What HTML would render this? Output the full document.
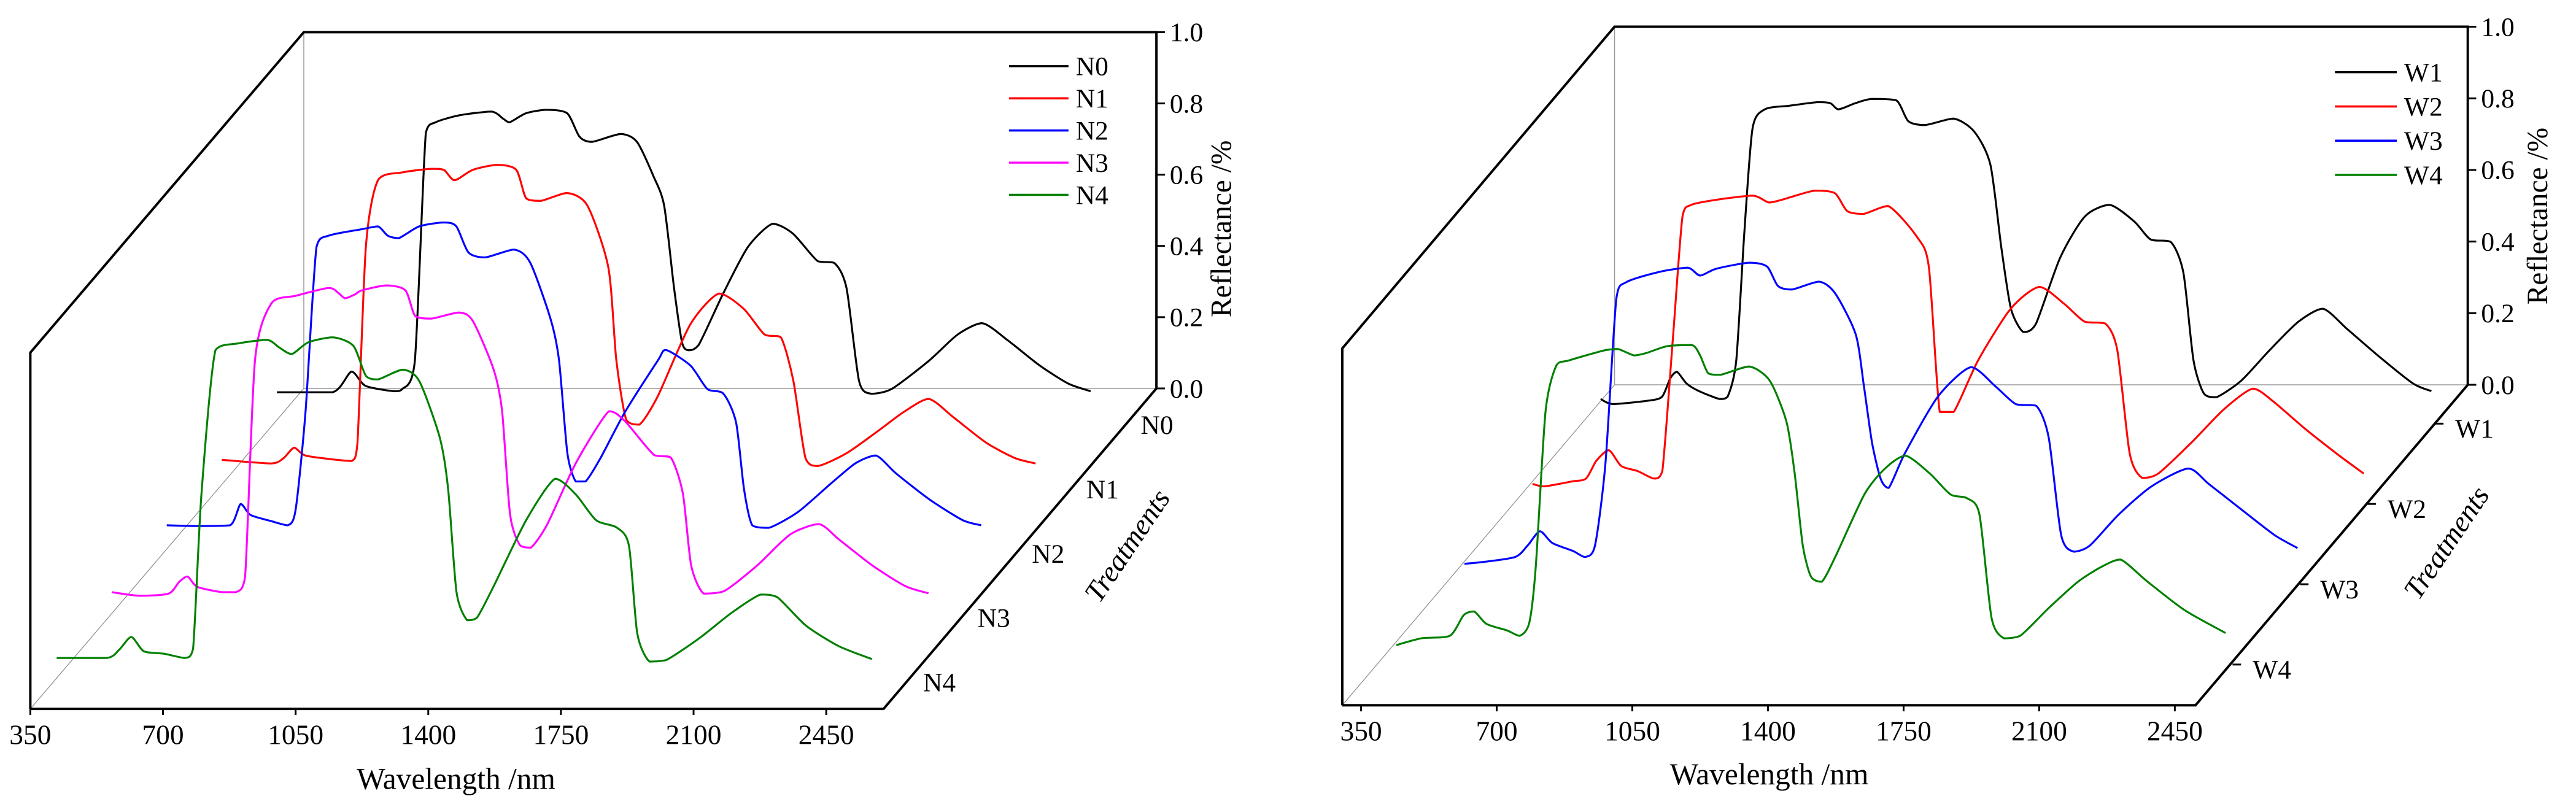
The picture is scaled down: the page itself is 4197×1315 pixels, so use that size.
<!DOCTYPE html>
<html><head><meta charset="utf-8"><style>
html,body{margin:0;padding:0;background:#fff;}
svg{display:block;}
svg text{font-family:"Liberation Serif","Times New Roman",serif;}
</style></head><body>
<svg id="chart" width="4197" height="1315" viewBox="0 0 4197 1315" xmlns="http://www.w3.org/2000/svg"></svg>
<script>
// ---------- data ----------
const xTicks = [350,700,1050,1400,1750,2100,2450];
const yTicks = ["0.0","0.2","0.4","0.6","0.8","1.0"];
const leftNames = ["N0","N1","N2","N3","N4"];
const rightNames = ["W1","W2","W3","W4"];
const colorsL = ["#000000","#ff0000","#0000ff","#ff00ff","#008000"];
const colorsR = ["#000000","#ff0000","#0000ff","#008000"];

const n0W=[350,497,547,584,660,680,714,743,769,834,916,947,964,1007,1061,1116,1148,1181,1257,1300,1343,1372,1398,1419,1437,1463,1528,1593,1658,1712,1777,1821,1853,1886,1918,1973,2070,2146,2211,2276,2363,2439,2497];
const n0R=[.042,.042,.10,.06,.045,.05,.13,.77,.80,.82,.83,.81,.80,.825,.835,.825,.76,.745,.767,.745,.65,.565,.334,.182,.16,.175,.32,.45,.515,.487,.41,.405,.334,.074,.038,.052,.13,.204,.236,.19,.117,.066,.045];
const n1W=[350,480,513,541,571,654,693,708,730,762,827,903,936,964,1012,1077,1127,1153,1192,1261,1315,1370,1391,1417,1452,1500,1586,1662,1727,1782,1825,1858,1890,1923,1999,2085,2150,2215,2280,2367,2443,2497];
const n1R=[.038,.028,.043,.072,.05,.038,.035,.086,.635,.823,.845,.855,.852,.823,.852,.866,.852,.772,.765,.787,.751,.577,.317,.151,.137,.216,.418,.505,.462,.39,.382,.26,.043,.021,.057,.122,.173,.209,.158,.086,.043,.028];
const n2W=[350,430,517,545,571,625,669,690,716,745,777,864,907,933,962,1016,1081,1114,1146,1190,1266,1309,1363,1385,1407,1429,1455,1494,1559,1646,1667,1732,1776,1819,1852,1873,1895,1939,2015,2101,2167,2221,2275,2362,2449,2499];
const n2R=[.04,.038,.04,.10,.069,.052,.04,.084,.358,.821,.853,.871,.879,.853,.846,.879,.89,.879,.806,.792,.814,.777,.618,.503,.243,.163,.163,.228,.358,.503,.532,.488,.423,.409,.329,.142,.04,.033,.077,.156,.214,.236,.185,.113,.055,.04];
const n3W=[350,424,500,528,550,576,641,678,702,728,771,836,923,949,966,992,1010,1075,1125,1151,1194,1266,1303,1358,1380,1401,1427,1456,1499,1575,1662,1705,1781,1825,1857,1879,1912,1966,2053,2140,2216,2270,2357,2444,2505];
const n3R=[.038,.028,.034,.067,.082,.053,.038,.038,.082,.689,.848,.87,.892,.877,.863,.874,.885,.899,.885,.813,.806,.823,.799,.662,.546,.257,.17,.163,.228,.401,.546,.517,.423,.416,.315,.113,.034,.041,.113,.2,.229,.185,.113,.055,.035];
const n4W=[350,482,515,547,580,634,688,710,732,769,829,905,938,970,1014,1079,1133,1166,1198,1263,1307,1361,1383,1405,1433,1459,1502,1589,1665,1719,1773,1828,1860,1882,1914,1958,2045,2131,2207,2251,2327,2414,2501];
const n4R=[.039,.039,.062,.098,.058,.051,.039,.065,.499,.903,.922,.932,.91,.892,.925,.939,.915,.831,.821,.848,.816,.657,.513,.224,.145,.152,.238,.426,.542,.499,.426,.405,.354,.108,.029,.033,.094,.166,.217,.21,.13,.072,.036];

const w1W=[350,382,477,509,530,547,572,604,657,678,700,721,742,774,837,911,943,964,1007,1049,1113,1144,1187,1261,1314,1356,1384,1409,1441,1473,1536,1600,1664,1727,1769,1822,1854,1880,1907,1939,2003,2077,2151,2214,2278,2363,2447,2494];
const w1R=[.04,.026,.036,.047,.098,.116,.083,.062,.04,.047,.148,.507,.795,.849,.859,.869,.866,.849,.866,.878,.874,.816,.805,.823,.787,.694,.464,.292,.227,.249,.435,.55,.582,.536,.486,.478,.392,.148,.055,.045,.091,.177,.256,.292,.234,.155,.083,.062];
const w2W=[350,380,452,488,515,547,579,621,664,685,712,737,759,822,918,960,992,1077,1130,1162,1204,1268,1342,1373,1401,1437,1500,1584,1658,1722,1775,1828,1859,1891,1923,1965,2050,2135,2209,2262,2347,2432,2495];
const w2R=[.03,.023,.037,.045,.095,.124,.08,.066,.045,.066,.432,.777,.809,.823,.835,.816,.823,.849,.842,.792,.784,.806,.72,.634,.231,.231,.375,.519,.58,.533,.483,.478,.404,.116,.047,.059,.145,.239,.296,.26,.181,.109,.059];
const w3W=[350,397,481,513,545,577,630,661,687,714,742,767,852,926,958,1000,1085,1131,1159,1195,1265,1307,1360,1381,1402,1424,1445,1487,1572,1657,1720,1773,1826,1858,1890,1922,1964,2038,2123,2218,2271,2356,2441,2500];
const w3R=[.034,.039,.053,.085,.125,.092,.07,.053,.085,.315,.774,.82,.849,.861,.839,.858,.875,.864,.81,.80,.822,.789,.674,.53,.372,.272,.246,.343,.501,.583,.53,.48,.475,.386,.114,.068,.085,.171,.25,.30,.257,.185,.114,.078];
const w4W=[350,414,488,524,551,583,636,668,693,710,735,763,795,890,922,964,996,1049,1113,1134,1155,1187,1261,1314,1357,1378,1399,1420,1448,1484,1558,1611,1664,1727,1780,1823,1855,1886,1918,1960,2035,2109,2172,2219,2289,2384,2490];
const w4R=[.034,.053,.06,.118,.128,.093,.075,.06,.096,.254,.685,.815,.829,.858,.861,.843,.85,.869,.872,.843,.793,.789,.812,.772,.657,.514,.312,.226,.211,.283,.455,.527,.563,.513,.455,.444,.398,.111,.053,.06,.139,.211,.254,.273,.211,.132,.068];

const leftW=[n0W,n1W,n2W,n3W,n4W], leftR=[n0R,n1R,n2R,n3R,n4R];
const rightW=[w1W,w2W,w3W,w4W], rightR=[w1R,w2R,w3R,w4R];

// ---------- drawing ----------
const svg=document.getElementById('chart');
const NS='http://www.w3.org/2000/svg';
const FONT='"Liberation Serif","Times New Roman",serif';
function mk(tag,attrs,parent){const e=document.createElementNS(NS,tag);for(const k in attrs)e.setAttribute(k,attrs[k]);(parent||svg).appendChild(e);return e;}
function line(x1,y1,x2,y2,stroke,w,p){return mk('line',{x1,y1,x2,y2,stroke,'stroke-width':w},p);}
function txt(x,y,s,size,anchor,p,extra){const t=mk('text',Object.assign({x,y,'font-size':size,'text-anchor':anchor||'middle',fill:'#000','font-family':FONT},extra||{}),p);t.textContent=s;return t;}
function clampY(v,a,b){const lo=Math.min(a,b),hi=Math.max(a,b);return Math.max(lo,Math.min(hi,v));}
function smooth(pts){
  let d='M'+pts[0][0].toFixed(1)+','+pts[0][1].toFixed(1);
  for(let i=0;i<pts.length-1;i++){
    const p0=pts[Math.max(0,i-1)],p1=pts[i],p2=pts[i+1],p3=pts[Math.min(pts.length-1,i+2)];
    const c1=[p1[0]+(p2[0]-p0[0])/8,clampY(p1[1]+(p2[1]-p0[1])/8,p1[1],p2[1])];
    const c2=[p2[0]-(p3[0]-p1[0])/8,clampY(p2[1]-(p3[1]-p1[1])/8,p1[1],p2[1])];
    d+=` C${c1[0].toFixed(1)},${c1[1].toFixed(1)} ${c2[0].toFixed(1)},${c2[1].toFixed(1)} ${p2[0].toFixed(1)},${p2[1].toFixed(1)}`;
  }
  return d;
}

function panel(cfg){
  const g=mk('g',{transform:cfg.tf});
  
  
  const xs=wl=>cfg.x350+(wl-350)*cfg.sx;
  line(cfg.bx,cfg.top,cfg.bx,cfg.base,'#999',1.5,g);
  line(cfg.bx,cfg.base,cfg.yx,cfg.base,'#999',1.5,g);
  line(cfg.fx,cfg.fy,cfg.bx,cfg.base,'#888',1.2,g);
  const fr=mk('path',{d:`M${cfg.fx},${cfg.fy} L${cfg.fx},${cfg.ly} L${cfg.bx},${cfg.top} L${cfg.yx},${cfg.top} L${cfg.yx},${cfg.base} M${cfg.fx},${cfg.fy} L${cfg.fx2},${cfg.fy} L${cfg.yx},${cfg.base}`,fill:'none',stroke:'#000','stroke-width':4},g);
  
  
  xTicks.forEach(v=>{
    const x=xs(v);
    line(x,cfg.fy,x,cfg.fy+10,'#000',3,g);
    const t=txt(x,cfg.fy+58,String(v),46,'middle',g);
    
    
  });
  const xt=txt(cfg.xtx,cfg.xty,'Wavelength /nm',50,'middle',g);
  
  
  yTicks.forEach((s,i)=>{
    const y=cfg.base-(cfg.base-cfg.top)*i/(yTicks.length-1);
    line(cfg.yx,y,cfg.yx+14,y,'#000',3,g);
    const t=txt(cfg.yx+22,y+15,s,44,'start',g);
    
    
  });
  const yt=txt(0,0,'Reflectance /%',48,'middle',g,{transform:`translate(${cfg.ytx},${cfg.yty}) rotate(-90)`});
  
  
  cfg.names.forEach((n,k)=>{
    const t=txt(cfg.tl[0]+k*cfg.tstep[0],cfg.tl[1]+k*cfg.tstep[1]+15,n,44,'middle',g);
    
    
    if(cfg.tticks){
      const tx=cfg.tt[0]+k*cfg.tstep[0], ty=cfg.tt[1]+k*cfg.tstep[1];
      line(tx,ty,tx+14,ty,'#000',3,g);
    }
  });
  const tt=txt(0,0,'Treatments',48,'middle',g,{'font-style':'italic',transform:`translate(${cfg.ttx},${cfg.tty}) rotate(-56)`});
  
  
  cfg.W.forEach((wArr,k)=>{
    const ox=cfg.o0[0]+k*cfg.ostep[0], oy=cfg.o0[1]+k*cfg.ostep[1];
    const rArr=cfg.R[k];
    const pts=wArr.map((w,i)=>[ox+(w-350)*cfg.sx, oy-rArr[i]*cfg.sy]);
    const pl=mk('path',{d:smooth(pts),fill:'none',stroke:cfg.colors[k],'stroke-width':3.2,'stroke-linejoin':'round'},g);
    
    
    const ly=cfg.leg[1]+k*cfg.legStep;
    const ll=line(cfg.leg[0],ly,cfg.leg[0]+cfg.legLen,ly,cfg.colors[k],3.5,g);
    
    
    const lt=txt(cfg.leg[0]+cfg.legLen+12,ly+15,cfg.names[k],44,'start',g);
    
    
  });
}

panel({name:'left-panel',tf:'scale(0.988,0.989)',fx:50,fy:1168,fx2:1457,ly:581,bx:501,top:53,yx:1907,base:640,
  x350:50,sx:0.625,sy:587,names:leftNames,colors:colorsL,W:leftW,R:leftR,
  o0:[456.6,671],ostep:[-90.8,109],xtx:752,xty:1300,ytx:2030,yty:377,
  tl:[1908,700],tstep:[-89.7,106],tticks:false,ttx:1872,tty:908,
  leg:[1664,109],legStep:53,legLen:98});
panel({name:'right-panel',tf:'translate(2100,0) scale(0.988,0.989) translate(-2100,0)',fx:2188,fy:1162,fx2:3595,ly:574,bx:2637,top:44,yx:4044,base:634,
  x350:2219,sx:0.639,sy:590,names:rightNames,colors:colorsR,W:rightW,R:rightR,
  o0:[2614,681],ostep:[-112.3,134],xtx:2892,xty:1292,ytx:4175,yty:356,
  tl:[4055,706],tstep:[-111.3,132.3],tticks:true,tt:[3990,698],ttx:4022,tty:903,
  leg:[3825,119],legStep:56.4,legLen:102});
</script>
</body></html>
